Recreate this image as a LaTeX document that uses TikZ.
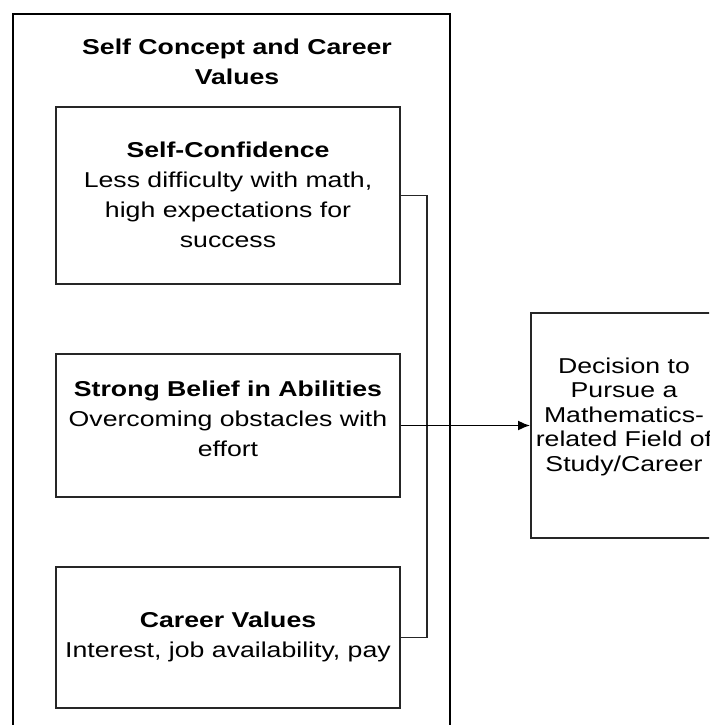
\documentclass[tikz,border=0pt]{standalone}
\usepackage{fontspec}
\setmainfont{Liberation Sans}[FakeStretch=1.24]
\usetikzlibrary{arrows.meta}
\tikzset{
  outerbox/.style={draw=black, line width=2.2pt, minimum width=437pt, minimum height=726pt, inner sep=0pt},
  innerbox/.style={draw=black!85, line width=1.8pt, minimum width=344pt, inner sep=0pt},
  decbox/.style={draw=black!85, line width=1.8pt, minimum width=186pt, minimum height=225pt, inner sep=0pt},
  txt/.style={align=center, inner sep=0pt, font=\fontsize{21.5}{30}\selectfont},
  dtxt/.style={align=center, inner sep=0pt, font=\fontsize{21.5}{24.5}\selectfont},
  conn/.style={draw=black!85, line width=1.8pt},
  arr/.style={draw=black, line width=1.8pt, -{Latex[length=12pt,width=10pt]}}
}
\begin{document}
\begin{tikzpicture}[x=1pt,y=-1pt]
\useasboundingbox (0,0) rectangle (709,725);
\clip (0,0) rectangle (709,725);
\fill[white] (0,0) rectangle (709,725);
\node[outerbox] (outer) at (231.5,377) {};
\node[txt] (title) at (237,62) {\textbf{Self Concept and Career}\\\textbf{Values}};
\node[innerbox, minimum height=177pt] (b1) at (228,195.5) {};
\node[innerbox, minimum height=143pt] (b2) at (228,425.5) {};
\node[innerbox, minimum height=141pt] (b3) at (228,637.5) {};
\node[txt] (t1) at (228,195) {\textbf{Self-Confidence}\\Less difficulty with math,\\high expectations for\\success};
\node[txt] (t2) at (228,419) {\textbf{Strong Belief in Abilities}\\Overcoming obstacles with\\effort};
\node[txt] (t3) at (228,637) {\textbf{Career Values}\\Interest, job availability, pay};
\node[decbox] (dec) at (624,425.5) {};
\node[dtxt] (dt) at (624,416.5) {Decision to\\Pursue a\\Mathematics-\\related Field of\\Study/Career};
\coordinate (bx) at (427,0);
\draw[conn] (b1.east) -- (b1.east -| bx) -- (b3.east -| bx) -- (b3.east);
\draw[arr] (b2.east) -- (dec.west);
\end{tikzpicture}
\end{document}
